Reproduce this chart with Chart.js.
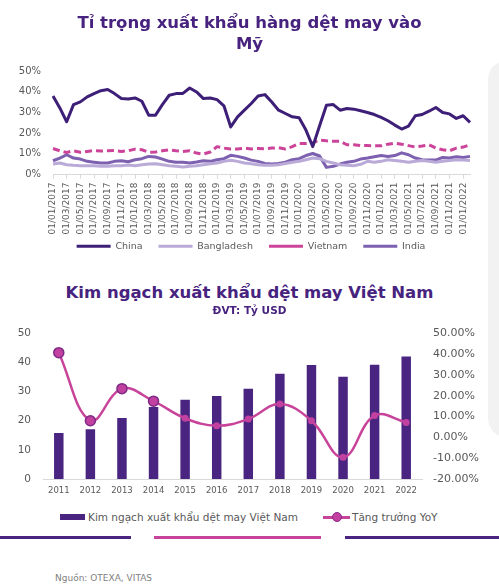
<!DOCTYPE html>
<html lang="vi">
<head>
<meta charset="utf-8">
<script src="https://cdn.jsdelivr.net/npm/chart.js@4.4.0/dist/chart.umd.min.js"></script>
<style>
  body { margin: 0; width: 499px; height: 588px; background: #fff; position: relative; overflow: hidden; font-family: "DejaVu Sans", sans-serif; }
  .abs { position: absolute; }
  .panel { left: 488px; top: 60px; width: 40px; height: 378px; background: #f2f2f2; border-radius: 22px; }
  .title { left: 0; width: 499px; text-align: center; color: #47237f; font-weight: bold; font-size: 16.5px; line-height: 21px; white-space: nowrap; }
  .sub { left: 0; width: 499px; text-align: center; color: #47237f; font-weight: bold; font-size: 10.5px; line-height: 13px; }
  .leg { font-size: 10.5px; color: #595959; line-height: 14px; white-space: nowrap; }
  .deco { height: 3px; top: 536px; }
  .src { left: 55px; top: 572px; font-size: 9px; color: #7f7f7f; line-height: 12px; }
</style>
</head>
<body>
<div class="abs panel"></div>

<canvas id="share" class="abs" style="left:0;top:53px" width="499" height="221"></canvas>
<div class="abs title" style="top:12px">Tỉ trọng xuất khẩu hàng dệt may vào<br>Mỹ</div>

<canvas id="exports" class="abs" style="left:0;top:315px" width="488" height="185"></canvas>
<div class="abs title" style="top:282px">Kim ngạch xuất khẩu dệt may Việt Nam</div>
<div class="abs sub" style="top:304px">ĐVT: Tỷ USD</div>

<div class="abs" style="left:60px;top:514px;width:25px;height:6px;background:#4a2481"></div>
<div class="abs leg" style="left:88px;top:510px">Kim ngạch xuất khẩu dệt may Việt Nam</div>
<div class="abs" style="left:323px;top:516px;width:27px;height:3px;background:#c8449a"></div>
<div class="abs" style="left:332px;top:512px;width:8px;height:8px;border-radius:50%;background:#c2409f;border:1px solid #8b2a8a"></div>
<div class="abs leg" style="left:352px;top:510px">Tăng trưởng YoY</div>

<div class="abs deco" style="left:0;width:131px;background:#4a2481"></div>
<div class="abs deco" style="left:154px;width:167px;background:#c8449a"></div>
<div class="abs deco" style="left:345px;width:154px;background:#4a2481"></div>

<div class="abs src">Nguồn: OTEXA, VITAS</div>

<script>
Chart.defaults.font.family = '"DejaVu Sans", sans-serif';
Chart.defaults.color = "#595959";

// top chart: monthly share of US textile imports (%)
const months = [
  "01/01/2017", "01/02/2017", "01/03/2017", "01/04/2017", "01/05/2017", "01/06/2017",
  "01/07/2017", "01/08/2017", "01/09/2017", "01/10/2017", "01/11/2017", "01/12/2017",
  "01/01/2018", "01/02/2018", "01/03/2018", "01/04/2018", "01/05/2018", "01/06/2018",
  "01/07/2018", "01/08/2018", "01/09/2018", "01/10/2018", "01/11/2018", "01/12/2018",
  "01/01/2019", "01/02/2019", "01/03/2019", "01/04/2019", "01/05/2019", "01/06/2019",
  "01/07/2019", "01/08/2019", "01/09/2019", "01/10/2019", "01/11/2019", "01/12/2019",
  "01/01/2020", "01/02/2020", "01/03/2020", "01/04/2020", "01/05/2020", "01/06/2020",
  "01/07/2020", "01/08/2020", "01/09/2020", "01/10/2020", "01/11/2020", "01/12/2020",
  "01/01/2021", "01/02/2021", "01/03/2021", "01/04/2021", "01/05/2021", "01/06/2021",
  "01/07/2021", "01/08/2021", "01/09/2021", "01/10/2021", "01/11/2021", "01/12/2021",
  "01/01/2022", "01/02/2022",
];
const china = [
  37.9, 32.2, 25.5, 33.8, 35.1, 37.5, 39.1, 40.5, 41.1, 39.1, 36.7, 36.5,
  37.0, 35.4, 28.7, 28.7, 33.8, 38.3, 39.1, 39.2, 41.8, 39.9, 36.7, 37.0,
  36.2, 33.2, 23.0, 27.9, 31.1, 34.3, 37.9, 38.6, 35.0, 31.1, 29.5, 27.9,
  27.4, 21.5, 13.5, 23.6, 33.5, 33.8, 31.1, 31.9, 31.6, 30.8, 30.0, 29.0,
  27.6, 26.0, 23.9, 22.0, 23.4, 28.4, 29.0, 30.6, 32.4, 30.0, 29.3, 27.1,
  28.4, 25.2,
];
const bangladesh = [
  5.1, 5.6, 4.8, 4.5, 4.3, 4.3, 4.3, 4.0, 4.0, 4.3, 4.3, 4.6,
  4.3, 4.8, 5.1, 5.3, 4.8, 4.3, 4.0, 3.7, 4.0, 4.3, 4.8, 5.3,
  5.6, 6.4, 6.9, 6.4, 5.6, 5.2, 4.8, 4.5, 4.5, 4.8, 5.4, 6.0,
  6.4, 7.2, 8.0, 7.7, 6.4, 5.6, 4.8, 4.5, 4.3, 5.0, 6.4, 6.0,
  6.4, 7.2, 6.8, 6.4, 6.0, 6.4, 6.8, 6.4, 6.0, 6.4, 6.8, 7.2,
  7.0, 6.8,
];
const vietnam = [
  12.6, 11.5, 10.7, 11.5, 10.8, 11.2, 11.6, 11.4, 11.5, 11.6, 11.2, 11.5,
  12.3, 12.0, 10.8, 10.9, 11.5, 12.0, 11.5, 11.2, 11.5, 10.4, 9.9, 10.9,
  13.5, 12.8, 12.4, 12.4, 12.8, 12.4, 12.6, 12.4, 12.8, 13.0, 12.4, 13.5,
  15.0, 15.0, 15.3, 16.7, 16.3, 16.1, 16.1, 14.4, 14.4, 14.0, 14.0, 13.9,
  13.9, 14.7, 15.2, 14.7, 14.0, 13.3, 13.8, 14.4, 12.8, 12.0, 11.5, 12.8,
  13.3, 14.4,
];
const india = [
  6.7, 8.0, 9.6, 8.0, 7.5, 6.4, 6.0, 5.6, 5.6, 6.4, 6.7, 6.2,
  7.2, 7.7, 8.8, 8.5, 7.5, 6.4, 6.0, 6.0, 5.6, 6.1, 6.7, 6.4,
  7.2, 7.7, 9.3, 8.8, 8.0, 7.0, 6.4, 5.4, 5.1, 5.4, 6.0, 7.2,
  7.7, 9.2, 10.2, 9.0, 3.5, 4.0, 5.1, 6.0, 6.4, 7.5, 8.0, 8.6,
  9.2, 8.8, 9.2, 10.5, 9.6, 8.0, 7.2, 7.0, 7.0, 8.3, 8.0, 8.6,
  8.3, 8.8,
];

// bottom chart: yearly exports (bn USD) and growth (%)
const years = ["2011", "2012", "2013", "2014", "2015", "2016", "2017", "2018", "2019", "2020", "2021", "2022"];
const exportValue = [15.8, 17.1, 20.9, 24.7, 27.2, 28.5, 31.0, 36.1, 39.1, 35.1, 39.2, 42.0];
const yoyGrowth = [40.7, 8.0, 23.4, 17.4, 9.2, 5.6, 8.8, 16.0, 8.0, -9.6, 10.5, 7.2];

// move the legend box a little (it sits closer to the axis in the original)
const legendNudge = {
  id: "legendNudge",
  afterLayout(chart, args, opts) {
    const lg = chart.legend;
    lg.left += opts.dx;
    lg.right += opts.dx;
    lg.top += opts.dy;
    lg.bottom += opts.dy;
  },
};

const noGrid = { display: false, drawTicks: false };

new Chart(document.getElementById("share"), {
  type: "line",
  plugins: [legendNudge],
  data: {
    labels: months,
    datasets: [
      { label: "China", data: china, borderColor: "#3e1f78", borderWidth: 3 },
      { label: "Bangladesh", data: bangladesh, borderColor: "#b9aad8", borderWidth: 3 },
      { label: "Vietnam", data: vietnam, borderColor: "#cc4499", borderWidth: 3, borderDash: [7, 4] },
      { label: "India", data: india, borderColor: "#7d60b0", borderWidth: 3 },
    ],
  },
  options: {
    responsive: false,
    animation: false,
    devicePixelRatio: 1,
    layout: { padding: { left: 15, right: 29, top: 0, bottom: 0 } },
    elements: {
      point: { radius: 0 },
      line: { tension: 0, borderJoinStyle: "round" },
    },
    plugins: {
      tooltip: { enabled: false },
      legendNudge: { dx: 8.5, dy: -13 },
      legend: {
        position: "bottom",
        labels: {
          usePointStyle: true,
          pointStyle: "line",
          pointStyleWidth: 34,
          padding: 16,
          color: "#595959",
          font: { size: 9.5 },
        },
      },
    },
    scales: {
      x: {
        ticks: {
          autoSkip: false,
          maxRotation: 90,
          minRotation: 90,
          padding: 4,
          font: { size: 9 },
          callback: (v, i) => (i % 2 === 0 ? months[i] : null),
        },
        grid: { drawOnChartArea: false, tickLength: 4, color: "#d9d9d9" },
        border: { color: "#d9d9d9" },
      },
      y: {
        min: 0,
        max: 50,
        ticks: { stepSize: 10, padding: 12, font: { size: 10 }, callback: (v) => v + "%" },
        grid: noGrid,
        border: { display: false },
        afterFit: (s) => { s.width = 38; },
      },
    },
  },
});

const bigDot = [true, true, true, true, false, false, false, false, false, false, false, false];

new Chart(document.getElementById("exports"), {
  data: {
    labels: years,
    datasets: [
      {
        type: "line",
        label: "Tăng trưởng YoY",
        data: yoyGrowth,
        yAxisID: "y1",
        borderColor: "#c8449a",
        borderWidth: 2.5,
        tension: 0.4,
        pointRadius: bigDot.map((b) => (b ? 5 : 3.5)),
        pointBackgroundColor: "#c2409f",
        pointBorderColor: bigDot.map((b) => (b ? "#7f2a86" : "#c2409f")),
        pointBorderWidth: bigDot.map((b) => (b ? 1.5 : 0)),
        order: 0,
      },
      {
        type: "bar",
        label: "Kim ngạch xuất khẩu dệt may Việt Nam",
        data: exportValue,
        yAxisID: "y",
        backgroundColor: "#4a2481",
        barPercentage: 0.6,
        categoryPercentage: 0.5,
        order: 1,
      },
    ],
  },
  options: {
    responsive: false,
    animation: false,
    devicePixelRatio: 1,
    layout: { padding: 0 },
    plugins: {
      tooltip: { enabled: false },
      legend: { display: false },
    },
    scales: {
      x: {
        grid: noGrid,
        border: { color: "#d9d9d9" },
        ticks: { padding: 7, font: { size: 8.5 } },
        afterFit: (s) => { s.height = 21; },
      },
      y: {
        position: "left",
        min: 0,
        max: 50,
        ticks: { stepSize: 10, padding: 12, font: { size: 10.5 } },
        grid: noGrid,
        border: { display: false },
        afterFit: (s) => { s.width = 43; },
      },
      y1: {
        position: "right",
        min: -20,
        max: 50,
        ticks: { stepSize: 10, padding: 11, font: { size: 11 }, callback: (v) => v.toFixed(2) + "%" },
        grid: noGrid,
        border: { display: false },
        afterFit: (s) => { s.width = 66; },
      },
    },
  },
});
</script>
</body>
</html>
